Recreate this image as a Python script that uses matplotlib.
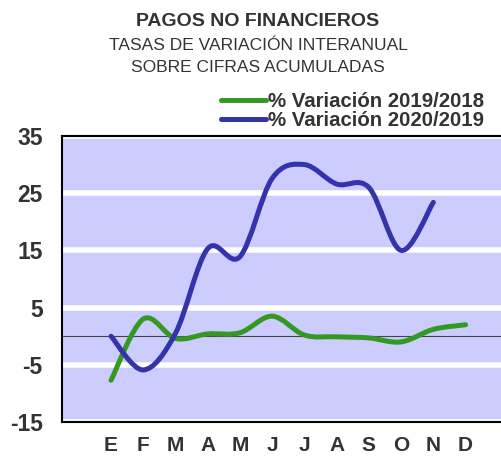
import matplotlib
matplotlib.use("Agg")
import matplotlib.pyplot as plt
from matplotlib.path import Path
from matplotlib.patches import PathPatch
from matplotlib.lines import Line2D

months = ["E", "F", "M", "A", "M", "J", "J", "A", "S", "O", "N", "D"]
var_2019_2018 = [-7.7, 3.0, -0.4, 0.4, 0.6, 3.5, 0.2, -0.1, -0.3, -1.0, 1.2, 2.0]
var_2020_2019 = [0.0, -5.9, 0.5, 15.3, 13.9, 27.6, 30.0, 26.6, 26.0, 15.0, 23.4]
y_ticks = [-15, -5, 5, 15, 25, 35]

green = "#339922"
blue = "#3333AA"
text_col = "#333333"
fam = ["Liberation Sans", "DejaVu Sans"]


def smooth_path(ys):
    # Excel-style smoothed line: bezier segments through every point
    pts = list(enumerate(ys))
    n = len(pts)
    verts = [pts[0]]
    codes = [Path.MOVETO]
    for i in range(n - 1):
        p0 = pts[max(i - 1, 0)]
        p1 = pts[i]
        p2 = pts[i + 1]
        p3 = pts[min(i + 2, n - 1)]
        c1 = (p1[0] + (p2[0] - p0[0]) / 6, p1[1] + (p2[1] - p0[1]) / 6)
        c2 = (p2[0] - (p3[0] - p1[0]) / 6, p2[1] - (p3[1] - p1[1]) / 6)
        verts += [c1, c2, p2]
        codes += [Path.CURVE4] * 3
    return Path(verts, codes)


fig = plt.figure(figsize=(5.01, 4.57), dpi=100)
ax = fig.add_axes([62 / 501, 35 / 457, 460 / 501, 286 / 457])
ax.set_facecolor("#CCCCFF")

ax.set_xlim(-1.52, 12.75)
ax.set_ylim(-15, 35)
ax.set_yticks(y_ticks)
ax.set_yticklabels([str(t) for t in y_ticks])
ax.set_xticks(range(len(months)))
ax.set_xticklabels(months)
ax.grid(axis="y", color="white", linewidth=4)
ax.set_axisbelow(True)
ax.tick_params(length=0)
ax.tick_params(axis="y", pad=14, labelsize=16.5, labelcolor=text_col)
ax.tick_params(axis="x", pad=10, labelsize=15, labelcolor=text_col)
for lab in ax.get_xticklabels() + ax.get_yticklabels():
    lab.set_fontweight("bold")
    lab.set_family(fam)

ax.axhline(0, color="#444444", linewidth=0.8, zorder=2)

for ys, col in [(var_2019_2018, green), (var_2020_2019, blue)]:
    ax.add_patch(PathPatch(smooth_path(ys), facecolor="none", edgecolor=col,
                           linewidth=3.6, capstyle="round", zorder=3))

for side in ["left", "top", "bottom"]:
    ax.spines[side].set_linewidth(1.5)
    ax.spines[side].set_color("black")
ax.spines["right"].set_visible(False)

fig.text(258 / 501, 1 - 22 / 457, "PAGOS NO FINANCIEROS", ha="center", va="center",
         fontsize=14, fontweight="bold", color=text_col, family=fam)
fig.text(258 / 501, 1 - 46 / 457, "TASAS DE VARIACIÓN INTERANUAL", ha="center",
         va="center", fontsize=12.5, color=text_col, family=fam)
fig.text(258 / 501, 1 - 68 / 457, "SOBRE CIFRAS ACUMULADAS", ha="center",
         va="center", fontsize=12.5, color=text_col, family=fam)

handles = [Line2D([], [], color=green, linewidth=3.6, solid_capstyle="round"),
           Line2D([], [], color=blue, linewidth=3.6, solid_capstyle="round")]
leg = fig.legend(handles, ["% Variación 2019/2018", "% Variación 2020/2019"],
                 loc="upper right", bbox_to_anchor=(494 / 501, 1 - 82 / 457),
                 frameon=False, handlelength=2.2, handletextpad=0.1,
                 labelspacing=0.0, borderpad=0,
                 prop={"family": fam, "weight": "bold", "size": 14.7})
for t in leg.get_texts():
    t.set_color(text_col)

fig.savefig("out.png", dpi=100)
